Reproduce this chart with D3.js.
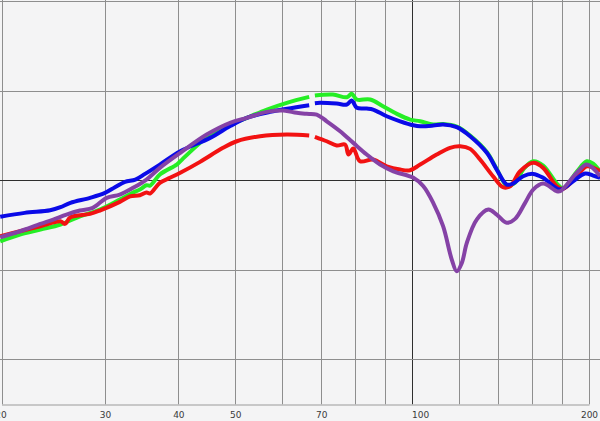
<!DOCTYPE html>
<html><head><meta charset="utf-8">
<script src="https://cdn.jsdelivr.net/npm/d3@7"></script>
<style>html,body{margin:0;padding:0;background:#f4f4f5;overflow:hidden}</style>
</head><body><svg id="c" width="600" height="421"></svg>
<script>
// Frequencies (Hz) of vertical gridlines and labelled ticks
const xGrid = [20,30,40,50,60,70,80,90,100,120,140,160,180,200];
const xLabels = [20,30,40,50,70,100,200];
// Level gridlines (dB)
const yGrid = [20,10,0,-10,-20];

// Series: [frequency Hz, level dB]; null = gap
const greenSeries = [[19.9,-6.81],[21.5,-6.06],[23.3,-5.5],[25.2,-4.94],[27.2,-4.02],[29.4,-3.27],[31.8,-2.15],[33.5,-1.37],[34.4,-1.04],[35.3,-0.56],[35.8,-0.59],[37.2,0.64],[39.75,1.75],[40.3,2.12],[45.8,5.29],[52.3,6.96],[56.6,7.89],[61.2,8.64],[66.8,9.3],[67.5,null],[68.3,9.45],[73.3,9.56],[77.4,9.26],[78.9,9.64],[80.5,9.01],[84.8,9.01],[89.2,8.26],[94.2,7.41],[99.2,6.77],[103.2,6.58],[108.6,6.22],[112.9,6.27],[119.1,5.99],[125.5,4.99],[134,3.15],[139.3,1.25],[144.9,-0.59],[149.7,-0.26],[154.5,1.19],[160.7,2.12],[167.1,1.64],[176.3,-0.37],[180.7,-0.93],[190.7,0.97],[198.3,2.12],[203.3,1.86],[208.9,0.97]];
const blueSeries = [[19.9,-4.08],[21.9,-3.64],[24.2,-3.35],[25.2,-3.01],[26.2,-2.52],[28.3,-1.96],[30,-1.41],[31.2,-0.78],[32.45,-0.18],[33.8,0.08],[35.1,0.71],[37.2,1.75],[40.3,3.24],[45.3,4.73],[49,6.04],[52.3,6.96],[57.3,7.63],[66.8,8.37],[67.5,null],[68.3,8.6],[69.7,8.64],[74.4,8.56],[77.4,8.45],[78.9,8.9],[80.5,8.08],[83.7,8.0],[85.8,7.89],[90.5,7.14],[95.4,6.58],[100.5,6.14],[103.2,6.03],[108.6,6.1],[112.9,6.22],[119.1,5.92],[125.5,4.91],[134,3.06],[139.3,1.19],[144.9,-0.48],[148.5,-0.37],[154.5,0.45],[160.7,0.71],[167.1,0.27],[178.6,-1.04],[187.9,-0.11],[197,0.75],[203.3,0.52],[208.9,0.27]];
const redSeries = [[19.9,-6.25],[21.5,-5.69],[23.3,-5.13],[25.2,-4.58],[25.65,-4.87],[26.2,-4.13],[28.3,-3.75],[29.4,-3.38],[31.8,-2.41],[33.1,-1.79],[34.4,-1.67],[35.3,-1.37],[35.8,-1.48],[37.2,-0.29],[38.7,0.27],[40.3,0.83],[43.55,2.05],[47.65,3.62],[50.3,4.35],[55.1,4.91],[61.2,5.1],[66.8,4.99],[67.5,null],[68.3,4.85],[71.55,4.35],[74.4,3.87],[76.9,3.98],[77.9,2.87],[79.4,3.54],[81.5,2.12],[85.8,2.31],[90.5,1.56],[95.4,1.19],[99.2,1.12],[103.2,1.75],[110.1,2.87],[116,3.62],[120.7,3.79],[125.5,3.5],[130.5,2.31],[137.3,0.45],[142.8,-0.78],[146.8,-0.67],[152.7,1.0],[160.7,1.94],[167.1,1.38],[176.3,-0.67],[180.7,-0.96],[190.7,0.45],[198.3,1.56],[208.9,1.0]];
const purpleSeries = [[19.9,-6.36],[21.5,-5.69],[23.3,-4.87],[24.5,-4.39],[25.8,-3.83],[27.2,-3.38],[28.6,-3.08],[30.2,-1.96],[31.8,-1.6],[33.5,-0.85],[35.3,0.08],[37.2,1.38],[40.3,3.06],[44.7,5.1],[49,6.41],[52.3,6.96],[56.6,7.63],[60.4,7.78],[63.6,7.52],[66.15,7.41],[68.8,7.33],[71.55,6.58],[75.4,5.47],[79.4,4.17],[83.7,2.87],[88.2,1.75],[92.9,1.0],[100.5,0.27],[104.5,-0.67],[108.6,-2.52],[112.9,-5.13],[116.8,-8.85],[119.1,-10.16],[121.5,-9.22],[123.9,-6.99],[128.8,-4.39],[134.8,-3.27],[139.3,-3.83],[144.9,-4.75],[149.7,-4.31],[155.7,-2.52],[160.7,-1.04],[167.1,-0.37],[176.3,-1.23],[178.6,-1.23],[190.7,0.83],[198.3,1.75],[208.9,0.45]];

const seriesList = [
  {data: greenSeries, color: "#25ee25"},
  {data: redSeries, color: "#f21212"},
  {data: blueSeries, color: "#0a0ae8"},
  {data: purpleSeries, color: "#8542a6"}
];

const W = 600, H = 421;
const svg = d3.select("#c");
svg.append("rect").attr("width", W).attr("height", H).attr("fill", "#f4f4f5");

const x = d3.scaleLog().domain([20, 200]).range([1.5, 589]);
const y = d3.scaleLinear().domain([-25, 20]).range([404.3, 1]);
const yBottom = y(-25);

const grid = svg.append("g");
xGrid.forEach(f => {
  const px = Math.round(x(f)) + 0.5;
  grid.append("line").attr("x1", px).attr("x2", px).attr("y1", 0).attr("y2", yBottom)
    .attr("stroke", f === 100 ? "#2e2e2e" : "#8e8e8e").attr("stroke-width", 1);
});
yGrid.forEach(v => {
  const py = Math.round(y(v)) + 0.5;
  grid.append("line").attr("x1", 0).attr("x2", W).attr("y1", py).attr("y2", py)
    .attr("stroke", v === 0 ? "#2e2e2e" : "#8e8e8e").attr("stroke-width", 1);
});

// bottom axis
const axis = d3.axisBottom(x).tickValues(xLabels).tickFormat(d3.format("d")).tickSize(0).tickPadding(7);
const ag = svg.append("g").attr("transform", `translate(0,${Math.round(yBottom)+0.5})`).call(axis);
ag.select(".domain").attr("stroke", "#9a9a9a");
ag.selectAll("text").attr("font-family", "DejaVu Sans, Verdana, sans-serif").attr("font-size", 9).attr("fill", "#3a3a3a")
  .attr("dx", d => d === 100 ? 8 : (d === 20 ? -1 : 0));

const line = d3.line()
  .defined(d => d[1] != null)
  .x(d => x(d[0]))
  .y(d => y(d[1]))
  .curve(d3.curveCatmullRom.alpha(0.5));

seriesList.forEach(s => {
  svg.append("path").datum(s.data).attr("d", line)
    .attr("fill", "none").attr("stroke", s.color).attr("stroke-width", 4)
    .attr("stroke-linejoin", "round");
});
</script></body></html>
